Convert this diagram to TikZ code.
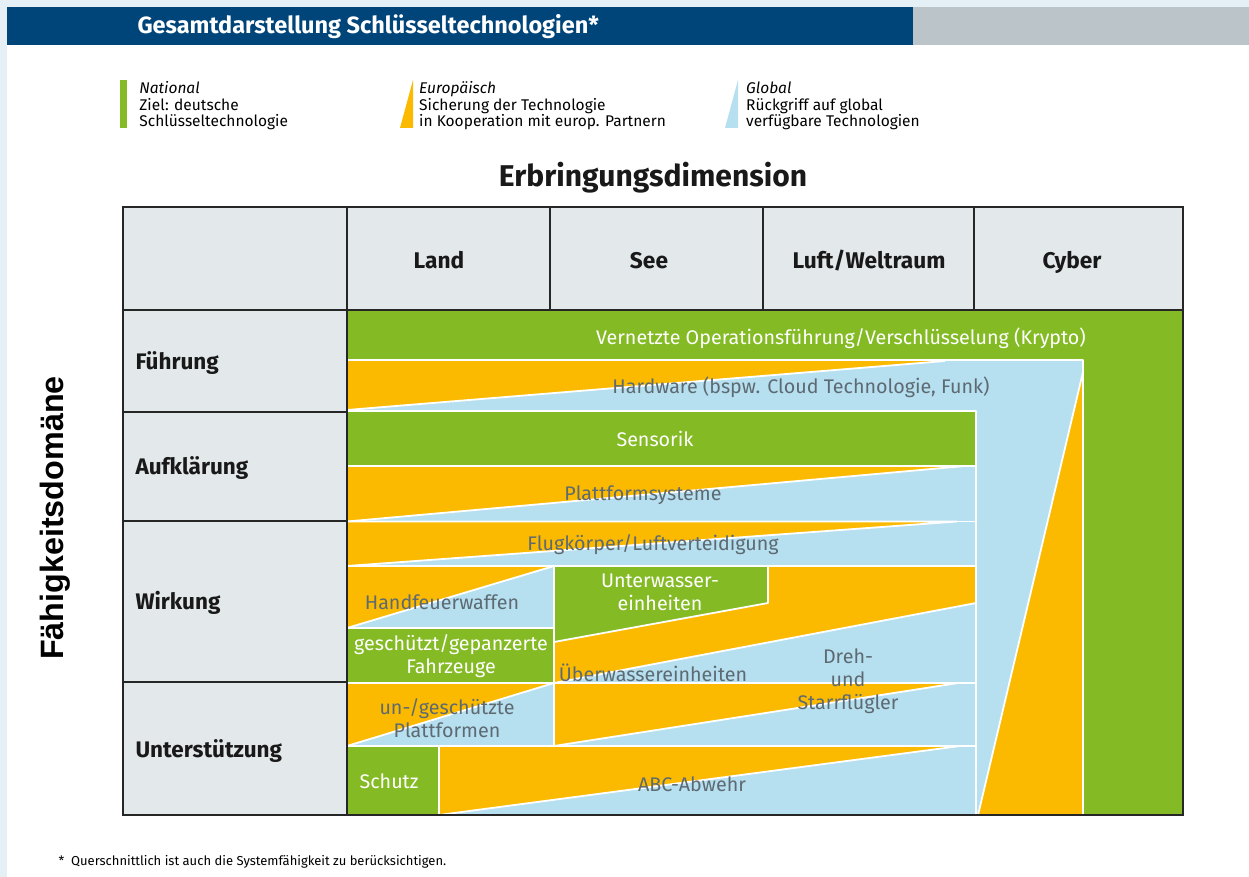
\documentclass[tikz,border=0pt]{standalone}
\usepackage{fontspec}
\setmainfont{Fira Sans}
\newfontfamily\arialfont{Liberation Sans}
\usetikzlibrary{positioning}

\definecolor{bmblau}{RGB}{0,69,122}
\definecolor{balkengrau}{RGB}{186,196,201}
\definecolor{randblau}{RGB}{229,239,246}
\definecolor{zellgrau}{RGB}{227,232,235}
\definecolor{natgruen}{RGB}{132,187,37}
\definecolor{eurogelb}{RGB}{251,186,0}
\definecolor{globblau}{RGB}{182,223,240}
\definecolor{schrift}{RGB}{93,106,114}

\begin{document}
\begin{tikzpicture}[x=1pt, y=-1pt,
    feld/.style={draw=white, line width=1.8pt, line join=round},
    gitter/.style={draw=black!85, line width=1.6pt},
    kopf/.style={anchor=base, font=\bfseries\fontsize{22.7}{25}\selectfont, text=black!90},
    domaene/.style={anchor=west, font=\bfseries\fontsize{22.5}{25}\selectfont, text=black!90},
    tnat/.style={text=white, align=center, font=\fontsize{19.7}{23}\selectfont},
    tglob/.style={text=schrift, align=center, font=\fontsize{19.7}{23}\selectfont},
    leg/.style={anchor=west, align=left, inner sep=0pt, font=\fontsize{15.5}{16.5}\selectfont}]

    \useasboundingbox (0,0) rectangle (1249,877);
    \fill[randblau] (0,0) rectangle (1249,877);
    \fill[white] (7,7) rectangle (1249,877);

    % Titelbalken
    \fill[bmblau] (7,7) rectangle (913,45);
    \fill[balkengrau] (913,7) rectangle (1249,45);
    \node[anchor=west, text=white, font=\bfseries\fontsize{23.5}{25}\selectfont] (titel) at (134,27) {Gesamtdarstellung Schlüsseltechnologien*};

    % Legende
    \node[fill=natgruen, minimum width=7pt, minimum height=48pt, inner sep=0pt] (natbar) at (123.5,104) {};
    \node[leg, right=12pt of natbar, yshift=-2pt] (nat) {\textit{National}\\Ziel: deutsche\\Schlüsseltechnologie};
    \fill[eurogelb] (400,128) -- (413,128) -- (413,80) -- cycle;
    \coordinate (eurobar) at (413,106);
    \node[leg, right=6pt of eurobar] (euro) {\textit{Europäisch}\\Sicherung der Technologie\\in Kooperation mit europ. Partnern};
    \fill[globblau] (725,128) -- (738,128) -- (738,80) -- cycle;
    \coordinate (globbar) at (738,106);
    \node[leg, right=8pt of globbar] (glob) {\textit{Global}\\Rückgriff auf global\\verfügbare Technologien};

    % Achsentitel
    \node[font=\bfseries\fontsize{30}{33}\selectfont, text=black!90] (erbr) at (653,178) {Erbringungsdimension};
    \node[rotate=90, font=\arialfont\bfseries\fontsize{32.3}{35}\selectfont] (faeh) at (55,518) {Fähigkeitsdomäne};

    % Kopfzeile und linke Spalte
    \fill[zellgrau] (123,207) rectangle (1183,310);
    \fill[zellgrau] (123,310) rectangle (347,815);

    % Farbflaechen
    \fill[natgruen] (347,310) rectangle (1183,815);
    \filldraw[feld, fill=globblau] (347,360) rectangle (1083,815);
    \filldraw[feld, fill=eurogelb] (1083,372) -- (1083,815) -- (978,815) -- cycle;
    \fill[eurogelb] (347,361) -- (945,361) -- (347,410) -- cycle;
    \draw[feld] (945,361) -- (347,410);

    \filldraw[feld, fill=natgruen] (347,411) rectangle (976,466);
    \filldraw[feld, fill=globblau] (347,466) rectangle (976,521.5);
    \filldraw[feld, fill=eurogelb] (347,466) -- (965,466) -- (347,521.5) -- cycle;
    \filldraw[feld, fill=globblau] (347,521.5) rectangle (976,566);
    \filldraw[feld, fill=eurogelb] (347,521.5) -- (957,521.5) -- (347,566) -- cycle;

    \filldraw[feld, fill=globblau] (347,566) rectangle (554,628);
    \filldraw[feld, fill=eurogelb] (347,566) -- (554,566) -- (347,628) -- cycle;
    \filldraw[feld, fill=natgruen] (347,628) rectangle (554,683);
    \filldraw[feld, fill=eurogelb] (554,566) rectangle (976,683);
    \filldraw[feld, fill=natgruen] (554,566) -- (768,566) -- (768,603) -- (554,642) -- cycle;
    \filldraw[feld, fill=globblau] (554,683) -- (976,603) -- (976,683) -- cycle;

    \filldraw[feld, fill=globblau] (347,683) rectangle (554,746);
    \filldraw[feld, fill=eurogelb] (347,683) -- (554,683) -- (347,746) -- cycle;
    \filldraw[feld, fill=globblau] (554,683) rectangle (976,746);
    \filldraw[feld, fill=eurogelb] (554,683) -- (958,683) -- (554,746) -- cycle;

    \filldraw[feld, fill=natgruen] (347,746) rectangle (439,815);
    \filldraw[feld, fill=globblau] (439,746) rectangle (976,815);
    \filldraw[feld, fill=eurogelb] (439,746) -- (960,746) -- (439,815) -- cycle;

    % Tabellenlinien
    \draw[gitter] (123,207) rectangle (1183,815);
    \draw[gitter] (123,310) -- (1183,310);
    \draw[gitter] (347,207) -- (347,815);
    \foreach \sx in {550,763,974}
        \draw[gitter] (\sx,207) -- (\sx,310);
    \foreach \sy in {412,521,682}
        \draw[gitter] (123,\sy) -- (347,\sy);

    % Kopfzeile
    \node[kopf] (land) at (439,268) {Land};
    \node[kopf] (see) at (649,268) {See};
    \node[kopf] (luft) at (869,268) {Luft/Weltraum};
    \node[kopf] (cyber) at (1072,268) {Cyber};

    % Faehigkeitsdomaenen
    \node[domaene] (fuehr) at (132,363) {Führung};
    \node[domaene] (aufkl) at (132,468) {Aufklärung};
    \node[domaene] (wirk) at (132,603) {Wirkung};
    \node[domaene] (unterst) at (132,751) {Unterstützung};

    % Technologien
    \node[tnat] (krypto) at (841,338) {Vernetzte Operationsführung/Verschlüsselung (Krypto)};
    \node[tglob] (hardw) at (801,387) {Hardware (bspw. Cloud Technologie, Funk)};
    \node[tnat] (sensor) at (655,439) {Sensorik};
    \node[tglob] (plattf) at (643,495) {Plattformsysteme};
    \node[tglob] (flugk) at (653,545) {Flugkörper/Luftverteidigung};
    \node[tglob] (handf) at (442,602) {Handfeuerwaffen};
    \node[tnat] (uwasser) at (660,592) {Unterwasser-\\einheiten};
    \node[tnat] (fahrz) at (451,656) {geschützt/gepanzerte\\Fahrzeuge};
    \node[tglob] (uewasser) at (653,673) {Überwassereinheiten};
    \node[tglob] (dreh) at (848,681) {Dreh-\\und\\Starrflügler};
    \node[tglob] (plattfu) at (447,718) {un-/geschützte\\Plattformen};
    \node[tnat] (schutz) at (389,781) {Schutz};
    \node[tglob] (abc) at (692,784) {ABC-Abwehr};

    % Fussnote
    \node[anchor=west, font=\fontsize{13}{15}\selectfont] (fussn) at (55,862) {*\ \ Querschnittlich ist auch die Systemfähigkeit zu berücksichtigen.};

\end{tikzpicture}
\end{document}
